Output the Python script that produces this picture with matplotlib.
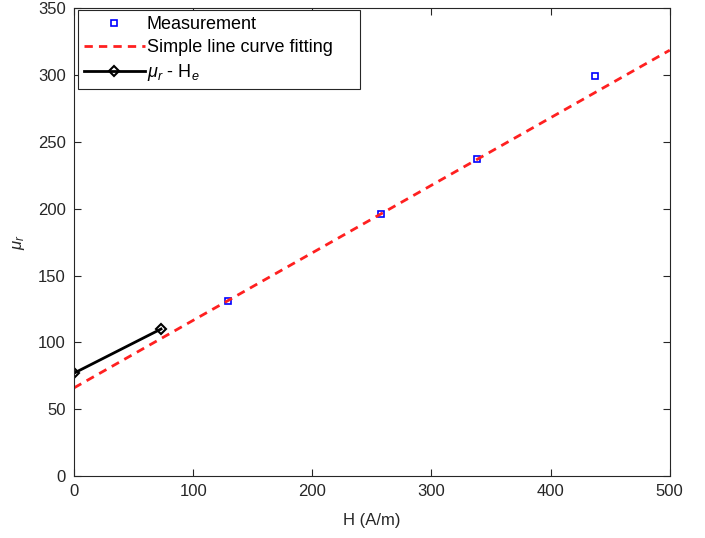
import numpy as np
import matplotlib.pyplot as plt

plt.rcParams['font.family'] = ['Liberation Sans', 'DejaVu Sans']
plt.rcParams['mathtext.fontset'] = 'custom'
plt.rcParams['mathtext.it'] = 'Liberation Sans:italic'
plt.rcParams['mathtext.rm'] = 'Liberation Sans'

# measured permeability vs field
h_meas = [129, 258, 338, 437]
mu_meas = [131, 196, 237, 299]

# straight-line fit coefficients (intercept, slope)
fit_intercept = 66.0
fit_slope = 0.505
h_fit = [0, 500]

# mu_r - H_e segment
h_e = [0, 73]
mu_e = [77, 110]

fig = plt.figure(figsize=(7.05, 5.38), dpi=100)
ax = fig.add_axes([0.105, 0.115, 0.845, 0.87])

ax.plot(h_meas, mu_meas, 's', color='#0000ff', mfc='none', ms=5, mew=1.2,
        label='Measurement')
ax.plot(h_fit, [fit_intercept + fit_slope * h for h in h_fit], '--', color='#ff2020',
        lw=2, dashes=(3, 2.2), label='Simple line curve fitting')
ax.plot(h_e, mu_e, '-D', color='black', lw=2, ms=5.5, mfc='none', mew=1.5,
        label=r'$\mu_{r}$ - H$_{e}$')

ax.set_xlim(0, 500)
ax.set_ylim(0, 350)
ax.set_xticks(np.arange(0, 501, 100))
ax.set_yticks(np.arange(0, 351, 50))

grey = '#262626'
for s in ax.spines.values():
    s.set_color(grey)
    s.set_linewidth(0.8)
ax.tick_params(direction='in', top=True, right=True, colors=grey,
               labelsize=12, length=5, width=0.8, pad=6)
ax.set_xlabel('H (A/m)', fontsize=12, color=grey, labelpad=10)
ax.set_ylabel(r'$\mu_{r}$', fontsize=12, color=grey, labelpad=8)

# wide MATLAB-style legend box
leg = ax.legend(loc='upper left', bbox_to_anchor=(0.007, 0.995, 0.473, 0),
                mode='expand', borderaxespad=0, fontsize=13, frameon=True,
                fancybox=False, edgecolor=grey, framealpha=1, borderpad=0.3,
                handlelength=3.4, handletextpad=0.1, labelspacing=0.35)
leg.get_frame().set_linewidth(0.8)

fig.savefig('out.png', dpi=100)
